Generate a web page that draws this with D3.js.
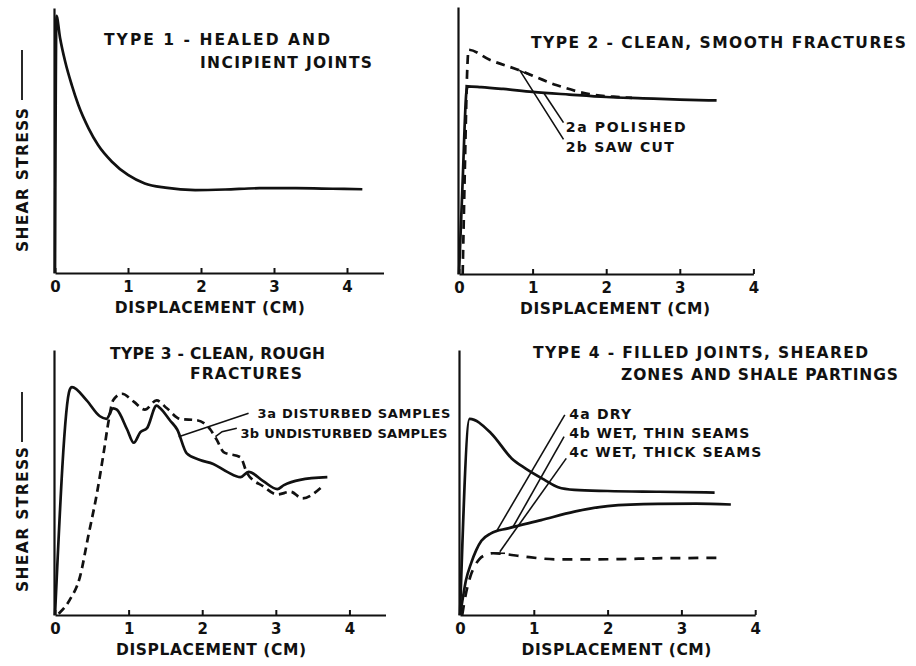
<!DOCTYPE html>
<html>
<head>
<meta charset="utf-8">
<script src="https://cdn.jsdelivr.net/npm/d3@7"></script>
<style>
  body { margin: 0; background: #fff; }
  text { font-family: "DejaVu Sans", "Liberation Sans", sans-serif; font-weight: bold; fill: #111; }
</style>
</head>
<body>
<div id="chart"></div>
<script>
// tick labels of every displacement axis (cm)
var xTicks = [0, 1, 2, 3, 4];

// type 1 - healed and incipient joints
var type1Disp   = [0, 0.02, 0.07, 0.14, 0.23, 0.32, 0.46, 0.59, 0.78, 1.0, 1.23, 1.51, 1.92, 2.33, 2.8, 3.3, 3.8, 4.21];
var type1Stress = [0, 97, 88.6, 79.7, 70.9, 63.4, 54.6, 48.3, 42, 37, 33.8, 32.2, 31.3, 31.5, 32, 32, 31.8, 31.6];

// type 2 - clean, smooth fractures
var type2aDisp   = [0, 0.05, 0.1, 0.12, 0.3, 0.6, 1.0, 1.5, 2.0, 2.5, 3.0, 3.5];
var type2aStress = [0, 35, 68, 70.3, 70, 69.3, 68.2, 67.2, 66.3, 65.8, 65.3, 65];
var type2bDisp   = [0.05, 0.08, 0.11, 0.13, 0.41, 0.8, 1.32, 1.77, 2.1, 2.35];
var type2bStress = [0, 40, 75, 84, 80.3, 76.5, 70.8, 67.4, 66.4, 66];

// type 3 - clean, rough fractures
var type3aDisp   = [0, 0.2, 0.23, 0.43, 0.61, 0.7, 0.79, 0.84, 0.98, 1.07, 1.16, 1.25, 1.38, 1.43, 1.56, 1.66, 1.79, 1.97, 2.15, 2.34, 2.52, 2.63, 2.83, 3.02, 3.11, 3.33, 3.7];
var type3aStress = [0, 85, 86, 81, 75, 74, 78, 77.5, 70, 65, 69, 70.5, 79, 78, 73.5, 70, 61, 58.5, 57, 54, 52, 54, 50.5, 47.5, 49, 51, 52];
var type3bDisp   = [0.05, 0.2, 0.34, 0.45, 0.57, 0.66, 0.73, 0.79, 0.91, 1.07, 1.22, 1.38, 1.52, 1.7, 1.93, 2.11, 2.2, 2.29, 2.52, 2.61, 2.83, 3.02, 3.2, 3.36, 3.61];
var type3bStress = [0.5, 5.7, 14.5, 29.5, 46, 61, 73.5, 81, 83.5, 80.5, 77.5, 81, 78, 74, 73.5, 70, 66, 61.5, 59.5, 53.5, 48.5, 45.5, 46.5, 44, 48];

// type 4 - filled joints, sheared zones and shale partings
var type4aDisp   = [0, 0.13, 0.42, 0.7, 0.88, 1.15, 1.33, 1.55, 2.0, 2.7, 3.45];
var type4aStress = [0, 74, 68.6, 59.1, 55.4, 50.9, 48.2, 47.2, 46.8, 46.5, 46.2];
var type4bDisp   = [0, 0.03, 0.08, 0.15, 0.22, 0.29, 0.42, 0.65, 1.1, 1.55, 2.0, 2.68, 3.2, 3.67];
var type4bStress = [0, 5, 13, 19.5, 24.5, 28, 30.8, 32.7, 35.8, 39, 41.1, 41.9, 42, 41.7];
var type4cDisp   = [0.03, 0.08, 0.14, 0.2, 0.26, 0.33, 0.45, 0.6, 0.88, 1.33, 1.75, 2.2, 2.66, 3.1, 3.52];
var type4cStress = [0, 8, 14.5, 18.5, 21, 22.5, 23.3, 23, 22, 21, 21, 21.1, 21.4, 21.5, 21.6];

// texts
var titleLines = [
    ["TYPE 1 - HEALED AND", "INCIPIENT JOINTS"],
    ["TYPE 2 - CLEAN, SMOOTH FRACTURES"],
    ["TYPE 3 - CLEAN, ROUGH", "FRACTURES"],
    ["TYPE 4 - FILLED JOINTS, SHEARED", "ZONES AND SHALE PARTINGS"]
];
var seriesNames = [
    [],
    ["2a POLISHED", "2b SAW CUT"],
    ["3a DISTURBED SAMPLES", "3b UNDISTURBED SAMPLES"],
    ["4a DRY", "4b WET, THIN SEAMS", "4c WET, THICK SEAMS"]
];
var xTitle = "DISPLACEMENT (CM)";
var yTitle = "SHEAR STRESS";

function zip(a, b) {
    var r = [];
    for (var i = 0; i < a.length; i++) r.push([a[i], b[i]]);
    return r;
}

// layout of the four small plots
var panels = [
    {left: 55, right: 383.5, top: 8, bottom: 273, xEnd: 4.5, yLabel: [252, 108, 100, 50],
     series: [{d: zip(type1Disp, type1Stress), dash: null}],
     title: [[104, 45, 226], [200, 68, 172]],
     labelSize: 14, labels: [], leaders: []},
    {left: 459, right: 753.4, top: 7, bottom: 274, xEnd: 4, yLabel: null,
     series: [{d: zip(type2aDisp, type2aStress), dash: null},
              {d: zip(type2bDisp, type2bStress), dash: "9,6"}],
     title: [[531, 47.7, 375]],
     labelSize: 14, labels: [[1.45, 53.1, 120], [1.45, 45.8, 108]],
     leaders: [[[1.15, 67.9], [1.42, 56.7]],
               [[0.99, 74.2], [0.83, 76.1], [1.42, 50.4]]]},
    {left: 55, right: 385.5, top: 350, bottom: 615, xEnd: 4.49, yLabel: [592, 447, 442, 392],
     series: [{d: zip(type3aDisp, type3aStress), dash: null},
              {d: zip(type3bDisp, type3bStress), dash: "8,5"}],
     title: [[110, 359, 215], [190, 379, 112]],
     labelSize: 13, labels: [[2.75, 74.2, 193], [2.52, 66.7, 207]],
     leaders: [[[2.63, 76.1], [1.68, 67.3]],
               [[2.47, 70.5], [2.27, 69.2], [2.18, 67.3]]]},
    {left: 460, right: 755.2, top: 350, bottom: 615, xEnd: 4, yLabel: null,
     series: [{d: zip(type4aDisp, type4aStress), dash: null},
              {d: zip(type4bDisp, type4bStress), dash: null},
              {d: zip(type4cDisp, type4cStress), dash: "10,8"}],
     title: [[533, 358, 335], [621, 380, 277]],
     labelSize: 14, labels: [[1.48, 74, 62], [1.48, 66.9, 180], [1.48, 59.7, 192]],
     leaders: [[[1.42, 75.5], [0.49, 31.4]],
               [[1.41, 67.3], [0.72, 33.3]],
               [[1.44, 59.1], [0.54, 23.9]],
               [[0.45, 23.3], [0.61, 23.3]]]}
];

var svg = d3.select("#chart")
    .append("svg")
    .attr("width", 916)
    .attr("height", 666)
    .style("background", "#fff");

panels.forEach(function(p, k) {
    var g = svg.append("g");
    var x = d3.scaleLinear().domain([0, p.xEnd]).range([p.left, p.right]);
    var y = d3.scaleLinear().domain([0, 100]).range([p.bottom, p.top]);

    // axes
    var ax = g.append("g")
        .attr("transform", "translate(0," + p.bottom + ")")
        .call(d3.axisBottom(x).tickValues(xTicks).tickSizeInner(-5).tickSizeOuter(0)
            .tickPadding(8).tickFormat(d3.format("d")));
    ax.select(".domain").attr("stroke", "#111").attr("stroke-width", 2.2);
    ax.selectAll(".tick line").attr("stroke", "#111").attr("stroke-width", 2);
    ax.selectAll(".tick text").attr("font-size", 15).attr("font-family", null);

    var ay = g.append("g")
        .attr("transform", "translate(" + (p.left - 1) + ",0)")
        .call(d3.axisLeft(y).tickValues([]).tickSizeOuter(0));
    ay.select(".domain").attr("stroke", "#111").attr("stroke-width", 2.2);

    g.append("text")
        .attr("x", x(2.12))
        .attr("y", p.bottom + 40)
        .attr("text-anchor", "middle")
        .attr("font-size", 15.5)
        .attr("textLength", 190)
        .attr("lengthAdjust", "spacing")
        .text(xTitle);

    if (p.yLabel) {
        var yl = p.yLabel;
        g.append("text")
            .attr("transform", "translate(28," + yl[0] + ") rotate(-90)")
            .attr("font-size", 15.5)
            .attr("textLength", yl[0] - yl[1])
            .attr("lengthAdjust", "spacing")
            .text(yTitle);
        g.append("line")
            .attr("x1", 22).attr("x2", 22)
            .attr("y1", yl[2]).attr("y2", yl[3])
            .attr("stroke", "#111").attr("stroke-width", 1.8);
    }

    // titles
    titleLines[k].forEach(function(t, i) {
        g.append("text")
            .attr("x", p.title[i][0])
            .attr("y", p.title[i][1])
            .attr("font-size", 15.5)
            .attr("textLength", p.title[i][2])
            .attr("lengthAdjust", "spacing")
            .text(t);
    });

    // curves
    var line = d3.line()
        .x(function(d) { return x(d[0]); })
        .y(function(d) { return y(d[1]); })
        .curve(d3.curveMonotoneX);
    g.selectAll("path.curve")
        .data(p.series)
        .enter()
        .append("path")
        .attr("class", "curve")
        .attr("d", function(s) { return line(s.d); })
        .attr("fill", "none")
        .attr("stroke", "#111")
        .attr("stroke-width", 2.7)
        .attr("stroke-linejoin", "round")
        .attr("stroke-dasharray", function(s) { return s.dash; });

    // leader lines and series names
    var leader = d3.line()
        .x(function(d) { return x(d[0]); })
        .y(function(d) { return y(d[1]); });
    g.selectAll("path.leader")
        .data(p.leaders)
        .enter()
        .append("path")
        .attr("class", "leader")
        .attr("d", leader)
        .attr("fill", "none")
        .attr("stroke", "#111")
        .attr("stroke-width", 1.6);

    seriesNames[k].forEach(function(t, i) {
        var l = p.labels[i];
        g.append("text")
            .attr("x", x(l[0]))
            .attr("y", y(l[1]))
            .attr("font-size", p.labelSize)
            .attr("textLength", l[2])
            .attr("lengthAdjust", "spacing")
            .text(t);
    });
});
</script>
</body>
</html>
